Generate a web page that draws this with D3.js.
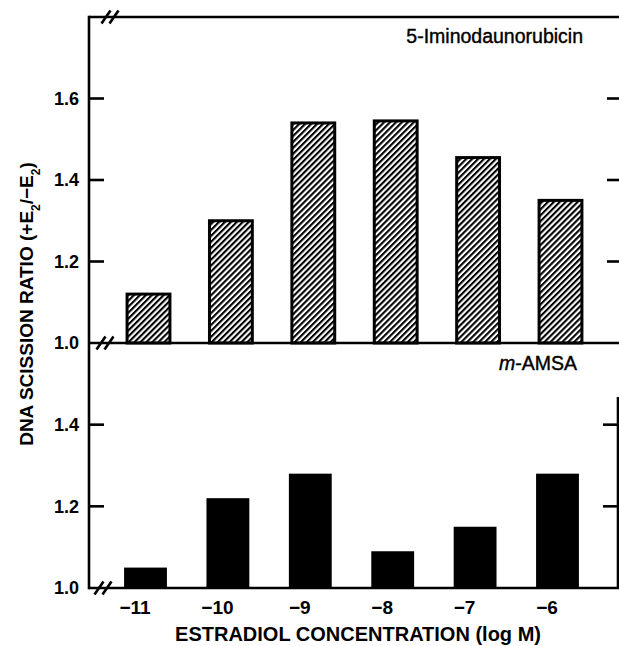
<!DOCTYPE html>
<html>
<head>
<meta charset="utf-8">
<script src="https://cdn.jsdelivr.net/npm/d3@7"></script>
<style>
  body { margin: 0; background: #fff; }
  text { font-family: "Liberation Sans", Arial, sans-serif; fill: #000; }
</style>
</head>
<body>
<div id="chart"></div>
<script>
// data
const concentrations = ["\u221211", "\u221210", "\u22129", "\u22128", "\u22127", "\u22126"];
const iminoRatio = [1.12, 1.30, 1.54, 1.545, 1.455, 1.35];   // 5-Iminodaunorubicin (hatched)
const amsaRatio = [1.05, 1.22, 1.28, 1.09, 1.15, 1.28];      // m-AMSA (solid)
const topTicks = [1.0, 1.2, 1.4, 1.6];
const bottomTicks = [1.0, 1.2, 1.4];

const width = 619, height = 646;
const plotLeft = 89, plotRight = 619;
const plotTop = 17, plotMid = 343, plotBottom = 588;

const svg = d3.select("#chart").append("svg")
  .attr("width", width)
  .attr("height", height);

// hatch pattern
const defs = svg.append("defs");
defs.append("pattern")
  .attr("id", "hatch")
  .attr("patternUnits", "userSpaceOnUse")
  .attr("width", 4.2)
  .attr("height", 4.2)
  .attr("patternTransform", "rotate(45)")
  .append("rect")
  .attr("x", 0).attr("y", 0)
  .attr("width", 2.1).attr("height", 4.2)
  .attr("fill", "#000");

// scales
const x = d3.scaleBand()
  .domain(concentrations)
  .range([105.8, 600.2])
  .paddingInner(0.48)
  .paddingOuter(0.24);

const yTop = d3.scaleLinear().domain([1.0, 1.8]).range([plotMid, plotTop]);
const yBot = d3.scaleLinear().domain([1.0, 1.6]).range([plotBottom, plotMid]);

// bars - top panel
svg.append("g").selectAll("rect")
  .data(iminoRatio)
  .join("rect")
  .attr("x", (d, i) => x(concentrations[i]) + 1.5)
  .attr("y", d => yTop(d))
  .attr("width", x.bandwidth())
  .attr("height", d => yTop(1.0) - yTop(d))
  .attr("fill", "url(#hatch)")
  .attr("stroke", "#000")
  .attr("stroke-width", 3);

// bars - bottom panel
svg.append("g").selectAll("rect")
  .data(amsaRatio)
  .join("rect")
  .attr("x", (d, i) => x(concentrations[i]) - 1.5)
  .attr("y", d => yBot(d))
  .attr("width", x.bandwidth())
  .attr("height", d => yBot(1.0) - yBot(d))
  .attr("fill", "#000");

// frame lines
const axisG = svg.append("g")
  .attr("stroke", "#000")
  .attr("stroke-width", 2.6)
  .attr("fill", "none");

axisG.append("line").attr("x1", plotLeft).attr("x2", plotLeft).attr("y1", plotTop - 1.3).attr("y2", plotBottom + 1.3);
axisG.append("line").attr("x1", plotLeft).attr("x2", plotRight).attr("y1", plotTop).attr("y2", plotTop);
axisG.append("line").attr("x1", plotLeft).attr("x2", plotRight).attr("y1", plotMid).attr("y2", plotMid);
axisG.append("line").attr("x1", plotLeft).attr("x2", plotRight).attr("y1", plotBottom).attr("y2", plotBottom);
axisG.append("line").attr("x1", 618).attr("x2", 618).attr("y1", 397).attr("y2", plotBottom);

// tick marks, left (inward) and right (inward)
topTicks.filter(t => t > 1.0).forEach(t => {
  axisG.append("line").attr("x1", plotLeft).attr("x2", plotLeft + 15).attr("y1", yTop(t)).attr("y2", yTop(t));
  axisG.append("line").attr("x1", plotRight - 12).attr("x2", plotRight).attr("y1", yTop(t)).attr("y2", yTop(t));
});
bottomTicks.filter(t => t > 1.0).forEach(t => {
  axisG.append("line").attr("x1", plotLeft).attr("x2", plotLeft + 15).attr("y1", yBot(t)).attr("y2", yBot(t));
  axisG.append("line").attr("x1", plotRight - 16).attr("x2", plotRight).attr("y1", yBot(t)).attr("y2", yBot(t));
});

// axis break marks "//"
function breakMark(cx, cy) {
  [-4, 4].forEach(dx => {
    axisG.append("line")
      .attr("x1", cx + dx - 4.5).attr("y1", cy + 6.5)
      .attr("x2", cx + dx + 4.5).attr("y2", cy - 6.5);
  });
}
breakMark(110, plotTop);
breakMark(105, plotMid);
breakMark(103, plotBottom);

// y tick labels
const labelG = svg.append("g")
  .attr("font-size", 18)
  .attr("font-weight", "bold");

labelG.selectAll(".ytop")
  .data(topTicks)
  .join("text")
  .attr("x", 79)
  .attr("y", d => yTop(d))
  .attr("dy", "0.36em")
  .attr("text-anchor", "end")
  .text(d => d.toFixed(1));

labelG.selectAll(".ybot")
  .data(bottomTicks.filter(t => t > 1.0).concat([1.0]))
  .join("text")
  .attr("x", 79)
  .attr("y", d => yBot(d))
  .attr("dy", "0.36em")
  .attr("text-anchor", "end")
  .text(d => d.toFixed(1));

// x tick labels
labelG.selectAll(".xlab")
  .data(concentrations)
  .join("text")
  .attr("x", d => x(d) + x.bandwidth() / 2 - 12)
  .attr("y", 614)
  .attr("font-size", 19)
  .attr("text-anchor", "middle")
  .text(d => d);

// x axis title
labelG.append("text")
  .attr("x", 358)
  .attr("y", 641)
  .attr("font-size", 20)
  .attr("text-anchor", "middle")
  .text("ESTRADIOL CONCENTRATION (log M)");

// y axis title
const yTitle = labelG.append("text")
  .attr("transform", "translate(33,304) rotate(-90)")
  .attr("font-size", 19)
  .attr("text-anchor", "middle");
yTitle.append("tspan").text("DNA SCISSION RATIO (+E");
yTitle.append("tspan").attr("font-size", 12).attr("baseline-shift", "sub").text("2");
yTitle.append("tspan").text("/\u2212E");
yTitle.append("tspan").attr("font-size", 12).attr("baseline-shift", "sub").text("2");
yTitle.append("tspan").text(")");

// panel labels
svg.append("text")
  .attr("x", 583)
  .attr("y", 43)
  .attr("text-anchor", "end")
  .attr("font-size", 19.5)
  .attr("stroke", "#000")
  .attr("stroke-width", 0.4)
  .text("5-Iminodaunorubicin");

const amsa = svg.append("text")
  .attr("x", 577)
  .attr("y", 370)
  .attr("text-anchor", "end")
  .attr("font-size", 19.5)
  .attr("stroke", "#000")
  .attr("stroke-width", 0.4);
amsa.append("tspan").attr("font-style", "italic").text("m");
amsa.append("tspan").text("-AMSA");
</script>
</body>
</html>
